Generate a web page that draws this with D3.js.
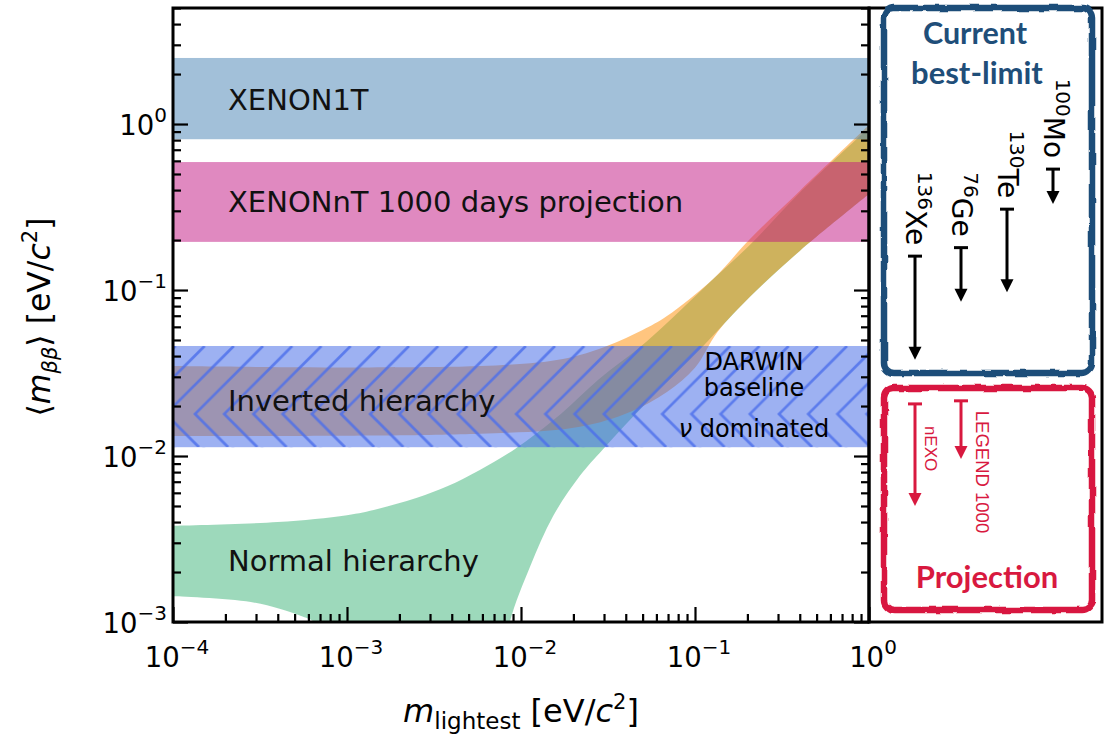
<!DOCTYPE html>
<head>
<meta charset="utf-8">
<script src="https://d3js.org/d3.v7.min.js"></script>
<style>
  body { margin:0; background:#fff; }
  svg text { font-family: "DejaVu Sans", sans-serif; }
</style>
</head>
<body>
<script>
// band edges: [m_lightest (eV), <m_bb> (eV)]
var nhUpper = [[1e-4,0.0038],[4e-4,0.0040],[1e-3,0.0044],[1.5e-3,0.0048],[2.5e-3,0.00558],[3.8e-3,0.00659],
               [5.8e-3,0.00824],[9.2e-3,0.011],[0.017,0.018],[0.028,0.029],[0.048,0.045],[0.072,0.066],[0.12,0.11],
               [0.21,0.19],[0.4,0.385],[1,0.95]];
var nhLower = [[1e-4,0.00143],[2.8e-4,0.00132],[5.4e-4,0.00109],[6.7e-4,0.00097],[1.2e-3,0.00034],[2.6e-3,0.000086],
               [5.8e-3,0.00015],[7.6e-3,0.00045],[8.65e-3,0.00101],[0.0113,0.00217],[0.0153,0.00435],[0.0218,0.0076],
               [0.0296,0.011],[0.055,0.022],[0.107,0.044],[0.207,0.091],[0.4,0.172],[1,0.379]];
var ihUpper = [[1e-4,0.0348],[5.8e-3,0.0348],[0.0174,0.0384],[0.0312,0.046],[0.050,0.0574],[0.069,0.0697],
               [0.127,0.1165],[0.207,0.203],[0.4,0.395],[1,0.985]];
var ihLower = [[1e-4,0.0132],[5.8e-3,0.0136],[0.0218,0.015],[0.0423,0.0184],[0.069,0.0243],[0.1,0.034],
               [0.135,0.056],[0.207,0.091],[0.4,0.172],[1,0.379]];

var xenon1t = [0.81, 2.5];
var xenonnt = [0.195, 0.59];
var darwin = [0.0113, 0.046];
var darwinSplit = 0.0179;

// current best limits and projections, [upper, lower] in eV
var isotopes = ["Xe", "Ge", "Te", "Mo"];
var massNumbers = ["136", "76", "130", "100"];
var limitUpper = [0.16, 0.18, 0.307, 0.535];
var limitLower = [0.038, 0.085, 0.097, 0.33];
var projNames = ["nEXO", "LEGEND 1000"];
var projUpper = [0.0206, 0.0215];
var projLower = [0.005, 0.0096];

var xTicks = [1e-4, 1e-3, 1e-2, 1e-1, 1];
var yTicks = [1e-3, 1e-2, 1e-1, 1];

var svg = d3.select("body").append("svg")
  .attr("width", 1115)
  .attr("height", 734)

var x = d3.scaleLog().domain([1e-4, 1]).range([173, 869]);
var y = d3.scaleLog().domain([1e-3, 5]).range([622, 8]);

var defs = svg.append("defs");
defs.append("clipPath").attr("id", "plotclip")
  .append("rect").attr("x", 173).attr("y", 8).attr("width", 696).attr("height", 614);

// chevron hatch for the DARWIN band
var yTop = y(darwin[1]), yBot = y(darwin[0]), yV = y(darwinSplit);
var pw = 29.2, ph = yBot - yTop, v = yV - yTop;
var pat = defs.append("pattern").attr("id", "hatch")
  .attr("patternUnits", "userSpaceOnUse")
  .attr("x", 195).attr("y", yTop).attr("width", pw).attr("height", ph);
for (var k = -5; k <= 1; k++) {
  pat.append("path")
    .attr("d", "M" + (k * pw + v) + ",0L" + (k * pw) + "," + v + "L" + (k * pw + ph - v) + "," + ph)
    .attr("fill", "none")
    .attr("stroke", "rgb(75,110,235)")
    .attr("stroke-opacity", 0.8)
    .attr("stroke-width", 2.7);
}

var rough = defs.append("filter").attr("id", "rough")
  .attr("x", "-5%").attr("y", "-5%").attr("width", "110%").attr("height", "110%");
rough.append("feTurbulence").attr("type", "fractalNoise").attr("baseFrequency", 0.06)
  .attr("numOctaves", 2).attr("seed", 3).attr("result", "n");
rough.append("feDisplacementMap").attr("in", "SourceGraphic").attr("in2", "n")
  .attr("scale", 4).attr("xChannelSelector", "R").attr("yChannelSelector", "G");

var plot = svg.append("g").attr("clip-path", "url(#plotclip)");

var edge = d3.line()
  .x(function(d) { return x(d[0]); })
  .y(function(d) { return y(d[1]); })
  .curve(d3.curveCatmullRom.alpha(0.5));

function bandPath(up, lo) {
  return edge(up) + edge(lo.slice().reverse()).replace(/^M/, "L") + "Z";
}

plot.append("path").attr("d", bandPath(nhUpper, nhLower))
  .attr("fill", "rgb(60,180,120)").attr("fill-opacity", 0.5);
plot.append("path").attr("d", bandPath(ihUpper, ihLower))
  .attr("fill", "rgb(255,140,0)").attr("fill-opacity", 0.5);

var hbands = [
  { r: xenon1t, c: "rgb(70,130,180)" },
  { r: xenonnt, c: "rgb(194,20,130)" },
  { r: darwin, c: "rgb(60,100,230)" }
];
plot.selectAll(".hband").data(hbands).enter()
  .append("rect")
  .attr("class", "hband")
  .attr("x", x(1e-4))
  .attr("width", x(1) - x(1e-4))
  .attr("y", function(d) { return y(d.r[1]); })
  .attr("height", function(d) { return y(d.r[0]) - y(d.r[1]); })
  .attr("fill", function(d) { return d.c; })
  .attr("fill-opacity", 0.5);

plot.append("rect")
  .attr("x", x(1e-4)).attr("width", x(1) - x(1e-4))
  .attr("y", yTop).attr("height", ph)
  .attr("fill", "url(#hatch)");

// band labels
var lx = x(1e-4) + 55;
function gm(r) { return Math.sqrt(r[0] * r[1]); }
var labels = [
  { t: "XENON1T", y: y(gm(xenon1t)) + 11 },
  { t: "XENONnT 1000 days projection", y: y(gm(xenonnt)) + 10 },
  { t: "Inverted hierarchy", y: (y(ihUpper[0][1]) + y(ihLower[0][1])) / 2 + 10 },
  { t: "Normal hierarchy", y: (y(nhUpper[0][1]) + y(nhLower[0][1])) / 2 + 10 }
];
svg.selectAll(".blab").data(labels).enter()
  .append("text")
  .attr("class", "blab")
  .attr("x", lx)
  .attr("y", function(d) { return d.y; })
  .attr("font-size", 29)
  .attr("fill", "#111")
  .text(function(d) { return d.t; });

var dx = 754;
svg.append("text").attr("x", dx).attr("y", yTop + 24).attr("text-anchor", "middle")
  .attr("font-size", 24).text("DARWIN");
svg.append("text").attr("x", dx).attr("y", yTop + 50).attr("text-anchor", "middle")
  .attr("font-size", 24).text("baseline");
var nu = svg.append("text").attr("x", dx).attr("y", yBot - 10).attr("text-anchor", "middle")
  .attr("font-size", 24);
nu.append("tspan").attr("font-style", "italic").text("\u03bd");
nu.append("tspan").text(" dominated");

// axes
var minorY = y.ticks().filter(function(d) { return yTicks.indexOf(d) < 0; });
var minorX = x.ticks().filter(function(d) { return xTicks.indexOf(d) < 0; });

function styleAxis(g) {
  g.select(".domain").remove();
  g.selectAll(".tick line").attr("stroke", "#000").attr("stroke-width", 2.2);
  g.selectAll(".tick text").remove();
}

svg.append("g").attr("transform", "translate(173,0)")
  .call(d3.axisLeft(y).tickValues(yTicks).tickSize(-15)).call(styleAxis);
svg.append("g").attr("transform", "translate(173,0)")
  .call(d3.axisLeft(y).tickValues(minorY).tickSize(-8)).call(styleAxis);
svg.append("g").attr("transform", "translate(869,0)")
  .call(d3.axisRight(y).tickValues(yTicks).tickSize(-15)).call(styleAxis);
svg.append("g").attr("transform", "translate(869,0)")
  .call(d3.axisRight(y).tickValues(minorY).tickSize(-8)).call(styleAxis);
svg.append("g").attr("transform", "translate(0,622)")
  .call(d3.axisBottom(x).tickValues(xTicks).tickSize(-15)).call(styleAxis);
svg.append("g").attr("transform", "translate(0,622)")
  .call(d3.axisBottom(x).tickValues(minorX).tickSize(-8)).call(styleAxis);

svg.append("rect").attr("x", 173).attr("y", 8).attr("width", 696).attr("height", 614)
  .attr("fill", "none").attr("stroke", "#000").attr("stroke-width", 3);

function expo(d) {
  var e = Math.round(Math.log10(d));
  return e < 0 ? "\u2212" + (-e) : "" + e;
}

var ylab = svg.append("g").selectAll("text").data(yTicks).enter()
  .append("text")
  .attr("x", 167)
  .attr("y", function(d) { return y(d) + 11; })
  .attr("text-anchor", "end")
  .attr("font-size", 27.5);
ylab.append("tspan").text("10");
ylab.append("tspan").attr("dy", -13).attr("font-size", 20).text(expo);

var xlab = svg.append("g").selectAll("text").data(xTicks).enter()
  .append("text")
  .attr("x", function(d) { return x(d) + 4; })
  .attr("y", 667)
  .attr("text-anchor", "middle")
  .attr("font-size", 27.5);
xlab.append("tspan").text("10");
xlab.append("tspan").attr("dy", -13).attr("font-size", 20).text(expo);

// axis titles
var yt = svg.append("text")
  .attr("transform", "translate(50,317) rotate(-90)")
  .attr("text-anchor", "middle")
  .attr("font-size", 31.5);
yt.append("tspan").text("\u27e8");
yt.append("tspan").attr("font-style", "italic").text("m");
yt.append("tspan").attr("font-style", "italic").attr("font-size", 21).attr("dy", 7).text("\u03b2\u03b2");
yt.append("tspan").attr("dy", -7).text("\u27e9 [eV/");
yt.append("tspan").attr("font-style", "italic").text("c");
yt.append("tspan").attr("font-size", 21).attr("dy", -13).text("2");
yt.append("tspan").attr("dy", 13).text("]");

var xt = svg.append("text")
  .attr("x", 521).attr("y", 722)
  .attr("text-anchor", "middle")
  .attr("font-size", 32);
xt.append("tspan").attr("font-style", "italic").text("m");
xt.append("tspan").attr("font-size", 23).attr("dy", 7).text("lightest");
xt.append("tspan").attr("dy", -7).text(" [eV/");
xt.append("tspan").attr("font-style", "italic").text("c");
xt.append("tspan").attr("font-size", 21).attr("dy", -13).text("2");
xt.append("tspan").attr("dy", 13).text("]");

// right-hand panel
svg.append("rect").attr("x", 869).attr("y", 8).attr("width", 233).attr("height", 614)
  .attr("fill", "none").attr("stroke", "#000").attr("stroke-width", 3);

var blue = "#1f4e79", red = "#d8193f";
svg.append("rect").attr("x", 884).attr("y", 8).attr("width", 208).attr("height", 365).attr("rx", 10)
  .attr("fill", "none").attr("stroke", blue).attr("stroke-width", 6.5).attr("filter", "url(#rough)");
svg.append("rect").attr("x", 884).attr("y", 388).attr("width", 208).attr("height", 222).attr("rx", 10)
  .attr("fill", "none").attr("stroke", red).attr("stroke-width", 6.5).attr("filter", "url(#rough)");

function title(t, cx, by, col, fs) {
  svg.append("text").attr("x", cx).attr("y", by).attr("text-anchor", "middle")
    .style("font-family", "Lato, 'Open Sans', sans-serif")
    .attr("font-weight", "bold").attr("font-size", fs)
    .attr("fill", col).text(t);
}
title("Current", 975, 44, blue, 30.5);
title("best-limit", 977, 84, blue, 31);
title("Projection", 987, 588, red, 31);

var px = d3.scalePoint().domain(isotopes).range([915, 1053]);

function arrow(g, xc, y1, y2, col, w) {
  g.append("line").attr("x1", xc).attr("x2", xc).attr("y1", y1).attr("y2", y2 - 10)
    .attr("stroke", col).attr("stroke-width", w);
  g.append("line").attr("x1", xc - 7).attr("x2", xc + 7).attr("y1", y1).attr("y2", y1)
    .attr("stroke", col).attr("stroke-width", w);
  g.append("path").attr("d", "M" + (xc - 6.5) + "," + (y2 - 13) + "L" + (xc + 6.5) + "," + (y2 - 13) + "L" + xc + "," + y2 + "Z")
    .attr("fill", col);
}

var lim = svg.append("g");
isotopes.forEach(function(iso, i) {
  var xc = px(iso);
  arrow(lim, xc, y(limitUpper[i]), y(limitLower[i]), "#000", 3);
  var t = lim.append("text")
    .attr("transform", "translate(" + (xc - 9) + "," + (y(limitUpper[i]) - 11) + ") rotate(90)")
    .attr("text-anchor", "end")
    .attr("font-size", 28);
  t.append("tspan").attr("font-size", 20).attr("dy", -12).text(massNumbers[i]);
  t.append("tspan").attr("dy", 12).text(iso);
});

var projOffset = [[10, 22], [15, 10]];
var projSize = [17, 18.5];
var proj = svg.append("g");
projNames.forEach(function(n, i) {
  var xc = px(isotopes[i]);
  arrow(proj, xc, y(projUpper[i]), y(projLower[i]), red, 3);
  proj.append("text")
    .attr("transform", "translate(" + (xc + projOffset[i][0]) + "," + (y(projUpper[i]) + projOffset[i][1]) + ") rotate(90)")
    .style("font-family", "'Liberation Sans', Arial, sans-serif")
    .attr("font-size", projSize[i])
    .attr("fill", red)
    .text(n);
});
</script>
</body>
